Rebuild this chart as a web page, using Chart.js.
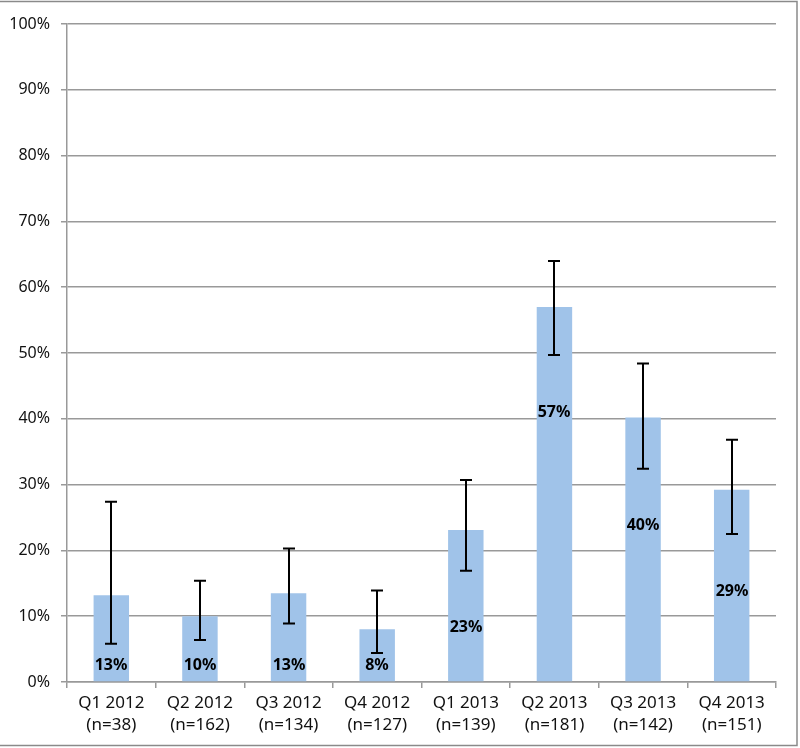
<!DOCTYPE html>
<html>
<head>
<meta charset="utf-8">
<script src="https://cdn.jsdelivr.net/npm/chart.js@4"></script>
<style>
  html, body { margin: 0; padding: 0; background: #fff; }
  #wrap { width: 800px; height: 748px; position: relative; }
</style>
</head>
<body>
<div id="wrap"><canvas id="myChart" width="800" height="748"></canvas></div>
<script>
// data
const quarters = ['Q1 2012', 'Q2 2012', 'Q3 2012', 'Q4 2012', 'Q1 2013', 'Q2 2013', 'Q3 2013', 'Q4 2013'];
const sampleSizes = [38, 162, 134, 127, 139, 181, 142, 151];
const percent = [13.2, 10.0, 13.5, 8.0, 23.1, 57.0, 40.2, 29.2];
const shownLabels = ['13%', '10%', '13%', '8%', '23%', '57%', '40%', '29%'];
const errLow = [5.8, 6.4, 8.9, 4.4, 16.9, 49.7, 32.4, 22.5];
const errHigh = [27.4, 15.4, 20.3, 13.9, 30.7, 64.0, 48.4, 36.8];
const yTicks = [0, 10, 20, 30, 40, 50, 60, 70, 80, 90, 100];

const fontFamily = '"Noto Sans", "DejaVu Sans", sans-serif';
const gridGray = '#999999';

// error bars + labels inside the bars + outer frame
const extras = {
  id: 'extras',
  afterDatasetsDraw(chart) {
    const ctx = chart.ctx;
    const y = chart.scales.y;
    const meta = chart.getDatasetMeta(0);
    ctx.save();
    meta.data.forEach((bar, i) => {
      const x = Math.round(bar.x);
      const top = y.getPixelForValue(errHigh[i]);
      const bottom = y.getPixelForValue(errLow[i]);
      ctx.strokeStyle = '#000';
      ctx.lineWidth = 2;
      ctx.beginPath();
      ctx.moveTo(x, top);
      ctx.lineTo(x, bottom);
      ctx.moveTo(x - 6, top);
      ctx.lineTo(x + 6, top);
      ctx.moveTo(x - 6, bottom);
      ctx.lineTo(x + 6, bottom);
      ctx.stroke();

      // label sits below the lower whisker, kept inside the bar
      let ly = bottom + 57;
      ly = Math.min(ly, y.getPixelForValue(0) - 17);
      ctx.fillStyle = '#000';
      ctx.font = 'bold 16px ' + fontFamily;
      ctx.textAlign = 'center';
      ctx.textBaseline = 'middle';
      ctx.fillText(shownLabels[i], x, ly);
    });
    ctx.strokeStyle = '#8a8a8a';
    ctx.lineWidth = 1.5;
    ctx.strokeRect(-2, 1.5, 799, 744);
    ctx.restore();
  }
};

new Chart(document.getElementById('myChart'), {
  type: 'bar',
  data: {
    labels: quarters.map((q, i) => [q, '(n=' + sampleSizes[i] + ')']),
    datasets: [{
      data: percent,
      backgroundColor: '#a0c3e9',
      borderWidth: 0,
      barPercentage: 0.8,
      categoryPercentage: 0.5
    }]
  },
  options: {
    responsive: false,
    animation: false,
    layout: { padding: { top: 24, right: 24, left: 0, bottom: 0 } },
    plugins: {
      legend: { display: false },
      tooltip: { enabled: false }
    },
    scales: {
      y: {
        min: 0,
        max: 100,
        afterFit: (s) => { s.width = 67; },
        afterBuildTicks: (s) => { s.ticks = yTicks.map(v => ({ value: v })); },
        ticks: {
          padding: 11,
          color: '#111',
          font: { family: fontFamily, size: 16 },
          callback: (v) => v + '%'
        },
        grid: { color: gridGray, lineWidth: 1.5, tickLength: 6 },
        border: { color: gridGray, width: 1.5 }
      },
      x: {
        afterFit: (s) => { s.height = 66; },
        ticks: {
          padding: 5,
          color: '#111',
          maxRotation: 0,
          font: { family: fontFamily, size: 17, lineHeight: 1.25 }
        },
        grid: { drawOnChartArea: false, offset: true, color: gridGray, lineWidth: 1.5, tickLength: 6 },
        border: { color: gridGray, width: 1.5 }
      }
    }
  },
  plugins: [extras]
});
</script>
</body>
</html>
